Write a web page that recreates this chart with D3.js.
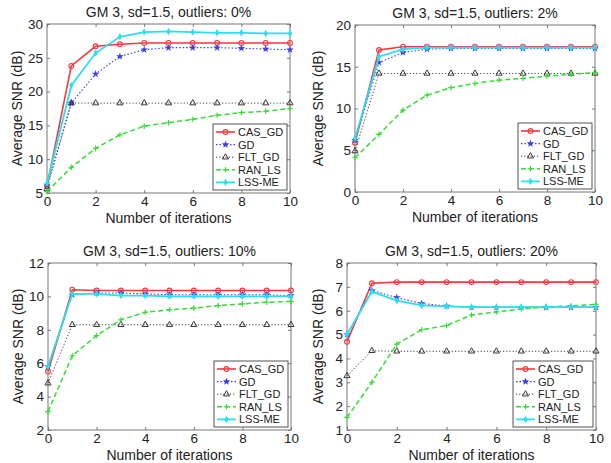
<!DOCTYPE html>
<html><head><meta charset="utf-8">
<script src="https://cdn.jsdelivr.net/npm/d3@7/dist/d3.min.js"></script>
<style>body{margin:0;background:#fff}svg{display:block;font-family:"Liberation Sans",Arial,sans-serif}</style>
</head><body><svg id="c" width="611" height="463"></svg>
<script>
const iterations = [0,1,2,3,4,5,6,7,8,9,10];
const seriesNames = ["CAS_GD","GD","FLT_GD","RAN_LS","LSS-ME"];
const titles = ["GM 3, sd=1.5, outliers: 0%","GM 3, sd=1.5, outliers: 2%","GM 3, sd=1.5, outliers: 10%","GM 3, sd=1.5, outliers: 20%"];
const yDomains = [[5,30],[0,20],[2,12],[1,8]];
const yTicks = [[5,10,15,20,25,30],[0,5,10,15,20],[2,4,6,8,10,12],[1,2,3,4,5,6,7,8]];
const xTicks = [0,2,4,6,8,10];

// outliers 0%
const cas_0 = [6.0,23.8,26.7,27.0,27.2,27.2,27.2,27.2,27.2,27.2,27.2];
const gd_0  = [6.2,18.3,22.6,25.2,26.2,26.5,26.5,26.5,26.4,26.3,26.2];
const flt_0 = [5.6,18.3,18.3,18.3,18.3,18.3,18.3,18.3,18.3,18.3,18.3];
const ran_0 = [5.2,8.8,11.6,13.6,14.9,15.4,15.9,16.5,16.9,17.1,17.5];
const lss_0 = [6.4,20.9,25.7,28.1,28.8,28.9,28.8,28.7,28.7,28.6,28.6];
// outliers 2%
const cas_2 = [5.9,17.0,17.4,17.4,17.4,17.4,17.4,17.4,17.4,17.4,17.4];
const gd_2  = [6.2,15.5,16.7,17.1,17.2,17.2,17.2,17.2,17.2,17.2,17.2];
const flt_2 = [4.9,14.2,14.2,14.2,14.2,14.2,14.2,14.2,14.2,14.2,14.2];
const ran_2 = [4.1,6.9,9.8,11.6,12.5,13.0,13.4,13.6,13.9,14.1,14.3];
const lss_2 = [6.4,16.2,17.1,17.3,17.3,17.3,17.3,17.3,17.3,17.3,17.3];
// outliers 10%
const cas_10 = [5.5,10.4,10.35,10.35,10.35,10.35,10.35,10.35,10.35,10.35,10.35];
const gd_10  = [5.8,10.1,10.2,10.2,10.15,10.1,10.1,10.1,10.1,10.1,10.05];
const flt_10 = [4.8,8.3,8.3,8.3,8.3,8.3,8.3,8.3,8.3,8.3,8.3];
const ran_10 = [3.1,6.45,7.65,8.6,9.05,9.2,9.3,9.45,9.55,9.65,9.7];
const lss_10 = [5.8,10.15,10.15,10.05,10.05,10.0,10.0,10.0,10.0,10.0,10.0];
// outliers 20%
const cas_20 = [4.7,7.15,7.2,7.2,7.2,7.2,7.2,7.2,7.2,7.2,7.2];
const gd_20  = [5.0,6.85,6.55,6.3,6.2,6.15,6.15,6.15,6.15,6.15,6.15];
const flt_20 = [3.27,4.32,4.3,4.3,4.3,4.3,4.3,4.3,4.3,4.3,4.3];
const ran_20 = [1.53,3.0,4.6,5.2,5.38,5.82,5.95,6.07,6.15,6.2,6.27];
const lss_20 = [5.0,6.8,6.42,6.22,6.18,6.15,6.15,6.15,6.15,6.15,6.15];

const panelData = [
  [cas_0,gd_0,flt_0,ran_0,lss_0],
  [cas_2,gd_2,flt_2,ran_2,lss_2],
  [cas_10,gd_10,flt_10,ran_10,lss_10],
  [cas_20,gd_20,flt_20,ran_20,lss_20]
];

// layout (pixel boxes of each plot area)
const boxes = [
  {l:47,r:290,t:24,b:193, ylab:17},
  {l:355,r:595,t:25,b:192, ylab:318},
  {l:48,r:291,t:263,b:430, ylab:18},
  {l:347,r:596,t:263,b:430, ylab:318}
];
const styles = [
  {color:"#f2383c", dash:null, width:1.6, marker:"circle"},
  {color:"#3a3cf0", dash:"1.5,2", width:1.1, marker:"star"},
  {color:"#404040", dash:"1.2,2", width:1.0, marker:"triangle"},
  {color:"#33dd33", dash:"5,3", width:1.5, marker:"plus"},
  {color:"#28e0ee", dash:null, width:1.8, marker:"diamond"}
];

const svg = d3.select("#c");

function drawMarker(g, type, x, y, color){
  if(type==="circle"){
    g.append("circle").attr("cx",x).attr("cy",y).attr("r",2.4).attr("fill","none").attr("stroke",color).attr("stroke-width",1.1);
  } else if(type==="star"){
    g.append("path").attr("d",d3.symbol(d3.symbolStar,18)()).attr("transform",`translate(${x},${y})`).attr("fill",color);
  } else if(type==="triangle"){
    g.append("path").attr("d",d3.symbol(d3.symbolTriangle,16)()).attr("transform",`translate(${x},${y})`).attr("fill","none").attr("stroke","#222").attr("stroke-width",0.9);
  } else if(type==="plus"){
    g.append("path").attr("d",`M${x-2.8},${y}H${x+2.8}M${x},${y-2.8}V${y+2.8}`).attr("stroke",color).attr("stroke-width",1.1);
  } else if(type==="diamond"){
    g.append("path").attr("d",d3.symbol(d3.symbolDiamond,16)()).attr("transform",`translate(${x},${y})`).attr("fill",color);
  }
}

boxes.forEach((bx,pi)=>{
  const x = d3.scaleLinear().domain([0,10]).range([bx.l,bx.r]);
  const y = d3.scaleLinear().domain(yDomains[pi]).range([bx.b,bx.t]);
  const g = svg.append("g");

  // box
  g.append("rect").attr("x",bx.l).attr("y",bx.t).attr("width",bx.r-bx.l).attr("height",bx.b-bx.t)
    .attr("fill","#fff").attr("stroke","#777").attr("stroke-width",1);

  // axes with inward ticks
  const ax = g.append("g").attr("transform",`translate(0,${bx.b})`)
    .call(d3.axisBottom(x).tickValues(xTicks).tickSize(-3).tickPadding(3).tickFormat(d3.format("d")));
  const axT = g.append("g").attr("transform",`translate(0,${bx.t})`)
    .call(d3.axisTop(x).tickValues(xTicks).tickSize(-3).tickFormat(""));
  const ay = g.append("g").attr("transform",`translate(${bx.l},0)`)
    .call(d3.axisLeft(y).tickValues(yTicks[pi]).tickSize(-3).tickPadding(4).tickFormat(d3.format("d")));
  const ayR = g.append("g").attr("transform",`translate(${bx.r},0)`)
    .call(d3.axisRight(y).tickValues(yTicks[pi]).tickSize(-3).tickFormat(""));
  [ax,axT,ay,ayR].forEach(a=>{
    a.select(".domain").remove();
    a.selectAll(".tick line").attr("stroke","#777");
    a.selectAll("text").attr("fill","#222").style("font-size","13.5px").style("font-family","Liberation Sans, Arial, sans-serif");
  });

  // lines
  panelData[pi].forEach((vals,si)=>{
    const st = styles[si];
    const line = d3.line().x((d,i)=>x(iterations[i])).y(d=>y(d));
    g.append("path").datum(vals).attr("d",line).attr("fill","none")
      .attr("stroke",st.color).attr("stroke-width",st.width)
      .attr("stroke-dasharray",st.dash);
    vals.forEach((v,i)=>drawMarker(g, st.marker, x(iterations[i]), y(v), st.color));
  });

  // title
  g.append("text").attr("x",(bx.l+bx.r)/2).attr("y",bx.t-7).attr("text-anchor","middle")
    .style("font-size","14px").attr("fill","#222").text(titles[pi]);
  // x label
  g.append("text").attr("x",(bx.l+bx.r)/2).attr("y",bx.b+30).attr("text-anchor","middle")
    .style("font-size","14px").attr("fill","#222").text("Number of iterations");
  // y label
  g.append("text").attr("transform",`translate(${bx.ylab+5},${(bx.t+bx.b)/2}) rotate(-90)`).attr("text-anchor","middle")
    .style("font-size","14px").attr("fill","#222").text("Average SNR (dB)");

  // legend
  const lw = pi===3 ? 80 : 74, lh = 66;
  const lx = bx.r - 3 - lw, ly = bx.b - 3 - lh;
  const lg = g.append("g");
  lg.append("rect").attr("x",lx).attr("y",ly).attr("width",lw).attr("height",lh)
    .attr("fill","#fff").attr("stroke","#555").attr("stroke-width",1);
  seriesNames.forEach((nm,si)=>{
    const st = styles[si];
    const yy = ly + 8 + si*12.6;
    lg.append("line").attr("x1",lx+3).attr("x2",lx+22).attr("y1",yy).attr("y2",yy)
      .attr("stroke",st.color).attr("stroke-width",st.width).attr("stroke-dasharray",st.dash);
    drawMarker(lg, st.marker, lx+12.5, yy, st.color);
    lg.append("text").attr("x",lx+25).attr("y",yy+4).style("font-size","11px").attr("fill","#222").text(nm);
  });
});
</script></body></html>
